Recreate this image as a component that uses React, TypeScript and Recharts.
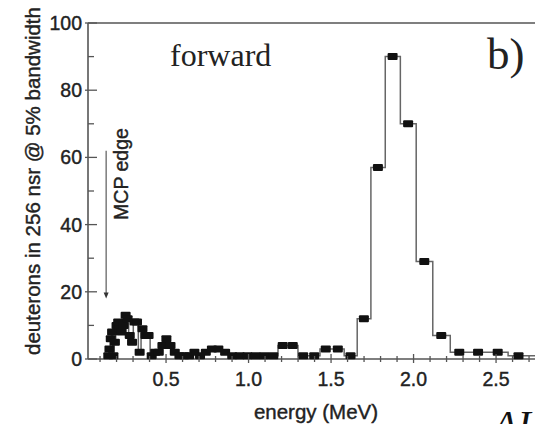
import { ComposedChart, Line, XAxis, YAxis, ReferenceLine, ReferenceDot } from "recharts";

// bin centres (MeV) and deuteron counts of the forward spectrum
const energies = [
  0.150, 0.157, 0.165, 0.173, 0.181, 0.190, 0.200, 0.210, 0.220, 0.231,
  0.243, 0.255, 0.267, 0.280, 0.294, 0.309, 0.324, 0.340, 0.357, 0.375,
  0.394, 0.413, 0.434, 0.456, 0.478, 0.502, 0.527, 0.553, 0.581, 0.610,
  0.640, 0.672, 0.706, 0.741, 0.778, 0.817, 0.858, 0.901, 0.946, 0.993,
  1.043, 1.095, 1.150, 1.207, 1.268, 1.331, 1.398, 1.468, 1.541, 1.618,
  1.699, 1.784, 1.873, 1.967, 2.065, 2.168, 2.277, 2.391, 2.510, 2.636,
  2.768
];
const counts = [
  1, 3, 6, 8, 1, 5, 10, 11, 9, 8,
  10, 13, 12, 7, 5, 11, 11, 2, 9, 7,
  7, 1, 2, 2, 4, 6, 4, 2, 1, 1,
  1, 2, 1, 2, 3, 3, 2, 1, 1, 1,
  1, 1, 1, 4, 4, 1, 1, 3, 3, 1,
  12, 57, 90, 70, 29, 7, 2, 2, 2, 1,
  1
];

const xTicks = [
  0.1, 0.2, 0.3, 0.4, 0.5, 0.6, 0.7, 0.8, 0.9, 1.0, 1.1, 1.2, 1.3, 1.4,
  1.5, 1.6, 1.7, 1.8, 1.9, 2.0, 2.1, 2.2, 2.3, 2.4, 2.5, 2.6, 2.7
];
const yTicks = [0, 10, 20, 30, 40, 50, 60, 70, 80, 90, 100];

// "MCP edge" arrow, energy and count range
const mcpEdge = 0.137;
const mcpArrowTop = 62;
const mcpArrowTip = 18;

const data = energies.map((e, i) => ({ e, v: counts[i] }));

const AXIS = "#555";
const TEXT = "#222";
const SANS = "Liberation Sans, Arial, Helvetica, sans-serif";
const SERIF = "Liberation Serif, Times New Roman, serif";

const XTick = ({ x, y, payload }: any) => {
  const v = payload.value;
  const major = Math.abs(v * 2 - Math.round(v * 2)) < 1e-6;
  return (
    <g>
      <line x1={x} x2={x} y1={y - (major ? 5 : 3)} y2={y + (major ? 4 : 3)} stroke={AXIS} strokeWidth={1.3} />
      {major && (
        <text x={x} y={y + 27} textAnchor="middle" fontSize={19.5} fontFamily={SANS} fill={TEXT} stroke={TEXT} strokeWidth={0.4}>
          {v.toFixed(1)}
        </text>
      )}
    </g>
  );
};

const YTick = ({ x, y, payload }: any) => {
  const v = payload.value;
  const major = v % 20 === 0;
  return (
    <g>
      <line x1={x - (major ? 3 : 0)} x2={x + (major ? 9 : 6)} y1={y} y2={y} stroke={AXIS} strokeWidth={1.3} />
      {major && (
        <text x={x - 6} y={y + 7} textAnchor="end" fontSize={19.5} fontFamily={SANS} fill={TEXT} stroke={TEXT} strokeWidth={0.4}>
          {v}
        </text>
      )}
    </g>
  );
};

const SquareDot = (props: any) => {
  const { cx, cy, index } = props;
  if (cx == null || cy == null) return <g key={index} />;
  return <rect key={index} x={cx - 5} y={cy - 3.5} width={10} height={7} rx={1} fill="#111" />;
};

const ArrowHead = ({ cx, cy }: any) => (
  <path d={`M${cx - 2.5},${cy - 6} L${cx + 2.5},${cy - 6} L${cx},${cy} Z`} fill="#333" />
);

export default function App() {
  return (
    <div style={{ position: "absolute", left: 0, top: 0, width: 535, height: 424, background: "#fff", overflow: "hidden" }}>
      <ComposedChart width={535} height={424} data={data} margin={{ top: 23, right: 0, bottom: 0, left: 0 }}>
        <XAxis
          type="number"
          dataKey="e"
          domain={[0.027, 2.736]}
          allowDataOverflow
          ticks={xTicks}
          interval={0}
          height={65}
          tickSize={0}
          tickMargin={0}
          tickLine={false}
          tick={<XTick />}
          axisLine={{ stroke: AXIS, strokeWidth: 1.6 }}
        />
        <YAxis
          type="number"
          domain={[0, 100]}
          ticks={yTicks}
          interval={0}
          width={88}
          tickSize={0}
          tickMargin={0}
          tickLine={false}
          tick={<YTick />}
          axisLine={{ stroke: AXIS, strokeWidth: 1.6 }}
        />
        <ReferenceLine y={100} stroke={AXIS} strokeWidth={1.6} />
        <ReferenceLine
          segment={[
            { x: mcpEdge, y: mcpArrowTop },
            { x: mcpEdge, y: mcpArrowTip + 1 }
          ]}
          stroke="#666"
          strokeWidth={1.3}
        />
        <ReferenceDot x={mcpEdge} y={mcpArrowTip} r={3} shape={<ArrowHead />} />
        <Line
          type="step"
          dataKey="v"
          stroke="#666"
          strokeWidth={1.5}
          dot={SquareDot}
          activeDot={false}
          isAnimationActive={false}
        />
      </ComposedChart>
      <svg width={535} height={424} style={{ position: "absolute", left: 0, top: 0, pointerEvents: "none" }}>
        <text
          transform="translate(40,181) rotate(-90)"
          textAnchor="middle"
          fontSize={20.5}
          fontFamily={SANS}
          fill={TEXT}
          stroke={TEXT}
          strokeWidth={0.4}
        >
          deuterons in 256 nsr @ 5% bandwidth
        </text>
        <text
          transform="translate(128,174) rotate(-90)"
          textAnchor="middle"
          fontSize={19.5}
          fontFamily={SANS}
          fill={TEXT}
          stroke={TEXT}
          strokeWidth={0.4}
        >
          MCP edge
        </text>
        <text x={170} y={66} fontSize={32} fontFamily={SERIF} fill="#222">
          forward
        </text>
        <text x={487} y={69} fontSize={45} fontFamily={SERIF} fill="#222">
          b)
        </text>
        <text x={316} y={419} textAnchor="middle" fontSize={20.5} fontFamily={SANS} fill={TEXT} stroke={TEXT} strokeWidth={0.4}>
          energy (MeV)
        </text>
        <text x={493} y={438} fontSize={40} fontStyle="italic" fontFamily={SERIF} fill="#111">
          AI
        </text>
      </svg>
    </div>
  );
}
